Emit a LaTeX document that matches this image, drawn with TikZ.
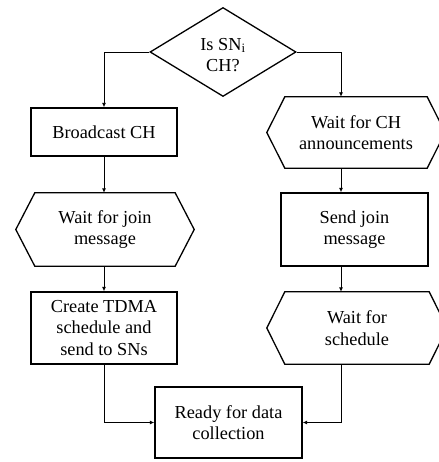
\documentclass[tikz,border=0pt]{standalone}
\usepackage{fontspec}
\setmainfont{Liberation Serif}
\usetikzlibrary{shapes.geometric,arrows.meta,calc}
\begin{document}
\begin{tikzpicture}[x=1pt,y=-1pt,
  txt/.style={font=\fontsize{18.3}{21.5}\selectfont, align=center, text=black},
  boxnode/.style={txt, draw, line width=1.3pt, rectangle, inner sep=0pt},
  hexnode/.style={txt, rectangle, inner sep=0pt},
  hexline/.style={line width=1.3pt, line join=miter},
  decision/.style={txt, draw, line width=1.3pt, diamond, inner sep=0pt, aspect=1.64},
  arr/.style={line width=0.9pt, -{Latex[length=4.5pt,width=4pt]}}
]
\useasboundingbox (0,0) rectangle (438,462);
\coordinate (rc) at (341,0);

\node[decision, minimum width=146pt, minimum height=89pt] (dia) at (223,52) {};
\node[txt] (diat) at (223,55) {Is SN\textsubscript{i}\\CH?};

\node[boxnode, minimum width=146pt, minimum height=48pt] (bc) at (104,132) {Broadcast CH};
\node[hexnode, minimum width=140pt, minimum height=73pt] (wj) at (105,229.5) {Wait for join\\message};
\node[boxnode, minimum width=146pt, minimum height=72pt] (tdma) at (104,328) {Create TDMA\\schedule and\\send to SNs};

\node[hexnode, minimum width=142pt, minimum height=71pt] (wch) at (356,132.5) {Wait for CH\\announcements};
\node[boxnode, minimum width=147pt, minimum height=73pt] (sj) at (354.5,229.5) {Send join\\message};
\node[hexnode, minimum width=144pt, minimum height=72pt] (ws) at (357,328) {Wait for\\schedule};

\node[boxnode, minimum width=147pt, minimum height=71pt] (rd) at (228.5,422.5) {Ready for data\\collection};

% hexagon outlines
\foreach \h/\d in {wj/19, wch/18, ws/18}{
  \draw[hexline] (\h.north west) -- (\h.north east) -- ($(\h.east)+(\d,0)$) -- (\h.south east)
     -- (\h.south west) -- ($(\h.west)-(\d,0)$) -- cycle;
}

% connectors
\draw[arr] (dia.west) -| (bc.north);
\draw[arr] (dia.east) -| (wch.north -| rc);
\draw[arr] (bc.south) -- (wj.north -| bc.south);
\draw[arr] (wj.south -| bc.south) -- (tdma.north);
\draw[arr] (wch.south -| rc) -- (sj.north -| rc);
\draw[arr] (sj.south -| rc) -- (ws.north -| rc);
\draw[arr] (tdma.south) |- (rd.west);
\draw[arr] (ws.south -| rc) |- (rd.east);
\end{tikzpicture}
\end{document}
